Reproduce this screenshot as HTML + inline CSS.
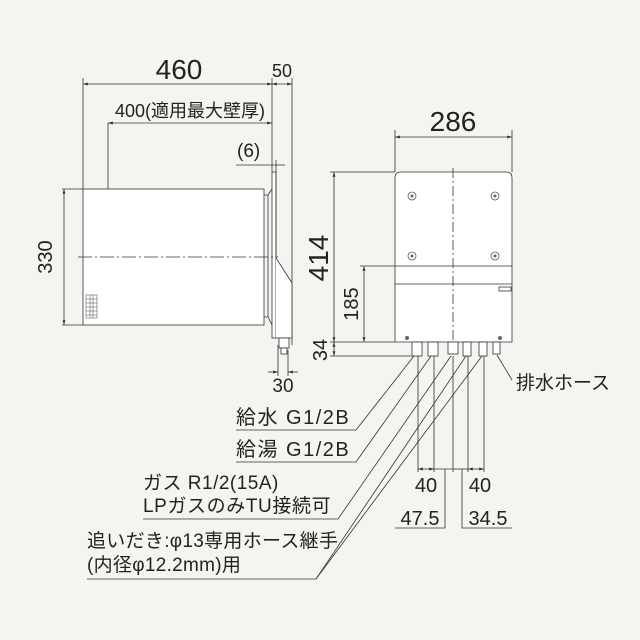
<!DOCTYPE html>
<html><head><meta charset="utf-8"><style>
html,body{margin:0;padding:0;background:#f5f4f0;}
svg{display:block;}
text{font-family:"Liberation Sans","Noto Sans CJK JP",sans-serif;fill:#222;}
</style></head><body>
<svg width="640" height="640" viewBox="0 0 640 640" xmlns="http://www.w3.org/2000/svg">
<defs>
<marker id="a" viewBox="0 0 10 6" refX="10" refY="3" markerWidth="6" markerHeight="4" orient="auto-start-reverse"><path d="M0,0L10,3L0,6z" fill="#333"/></marker>
</defs>
<g stroke="#333" stroke-width="0.8" fill="none">
<line x1="83" y1="78" x2="83" y2="189"/>
<line x1="272" y1="78" x2="272" y2="172"/>
<line x1="292" y1="78" x2="292" y2="345"/>
<line x1="83" y1="84" x2="272" y2="84" marker-start="url(#a)" marker-end="url(#a)"/>
<line x1="272" y1="84" x2="292" y2="84" marker-start="url(#a)" marker-end="url(#a)"/>
<line x1="108" y1="123" x2="108" y2="189"/>
<line x1="108" y1="123" x2="272" y2="123" marker-start="url(#a)" marker-end="url(#a)"/>
<line x1="236" y1="165" x2="285" y2="165"/>
<line x1="276" y1="160" x2="276" y2="172"/>
<rect x="83" y="189" width="181" height="136" fill="#fff"/>
<path d="M264,195 L268,195 L268,317 L264,317"/>
<path d="M268,195 L272,189 M268,317 L272,325"/>
<rect x="272" y="172" width="4" height="166" fill="#fff"/>
<path d="M276,172 L276,258 L292,283 L292,338 L276,338" fill="#fff"/>
<line x1="62" y1="189" x2="83" y2="189"/>
<line x1="62" y1="325" x2="83" y2="325"/>
<line x1="64" y1="189" x2="64" y2="325" marker-start="url(#a)" marker-end="url(#a)"/>
<line x1="78" y1="257" x2="278" y2="257" stroke-dasharray="14,3,2,3"/>
<rect x="279" y="338" width="10" height="10" fill="#fff"/>
<rect x="281" y="348" width="6" height="6" fill="#fff"/>
<line x1="278" y1="345" x2="278" y2="376"/>
<line x1="288" y1="350" x2="288" y2="376"/>
<line x1="268" y1="372" x2="278" y2="372" marker-end="url(#a)"/>
<line x1="298" y1="372" x2="288" y2="372" marker-end="url(#a)"/>
<line x1="395" y1="130" x2="395" y2="172"/>
<line x1="512" y1="130" x2="512" y2="172"/>
<line x1="395" y1="137" x2="512" y2="137" marker-start="url(#a)" marker-end="url(#a)"/>
<path d="M395,342 L395,178 Q395,172 401,172 L506,172 Q512,172 512,178 L512,342 Z" fill="#fff"/>
<line x1="395" y1="266" x2="512" y2="266"/>
<line x1="395" y1="284" x2="512" y2="284"/>
<rect x="499" y="287" width="12" height="4"/>
<line x1="453" y1="168" x2="453" y2="350" stroke-dasharray="10,3,2,3"/>
<line x1="330" y1="172" x2="395" y2="172"/>
<line x1="330" y1="342" x2="395" y2="342"/>
<line x1="330" y1="356" x2="420" y2="356"/>
<line x1="360" y1="266" x2="395" y2="266"/>
<line x1="334" y1="172" x2="334" y2="342" marker-start="url(#a)" marker-end="url(#a)"/>
<line x1="334" y1="342" x2="334" y2="356" marker-start="url(#a)" marker-end="url(#a)"/>
<line x1="364" y1="266" x2="364" y2="342" marker-start="url(#a)" marker-end="url(#a)"/>
<rect x="412" y="342" width="10" height="14" fill="#fff"/>
<rect x="428" y="342" width="10" height="14" fill="#fff"/>
<rect x="448" y="342" width="10" height="12" fill="#fff"/>
<rect x="463" y="342" width="8" height="14" fill="#fff"/>
<rect x="479" y="342" width="8" height="14" fill="#fff"/>
<rect x="493" y="342" width="7" height="12" fill="#fff"/>
<line x1="418" y1="356" x2="418" y2="472"/>
<line x1="434" y1="356" x2="434" y2="472"/>
<line x1="453" y1="356" x2="453" y2="472"/>
<line x1="468" y1="356" x2="468" y2="472"/>
<line x1="484" y1="356" x2="484" y2="472"/>
<line x1="418" y1="469" x2="434" y2="469" marker-start="url(#a)" marker-end="url(#a)"/>
<line x1="434" y1="469" x2="453" y2="469"/>
<line x1="468" y1="469" x2="484" y2="469" marker-start="url(#a)" marker-end="url(#a)"/>
<line x1="453" y1="469" x2="468" y2="469"/>
<polyline points="395,528 445,528 445,469"/>
<polyline points="512,528 462,528 462,469"/>
<polyline points="236,430 356,430 414,356"/>
<polyline points="236,462 356,462 431,356"/>
<polyline points="143,519 338,519 451,356"/>
<polyline points="87,579 316,579 466,356"/>
<line x1="316" y1="579" x2="482" y2="356"/>
<line x1="497" y1="355" x2="512" y2="380"/>
</g>
<g fill="#fff" stroke="#555" stroke-width="0.8">
<circle cx="412" cy="196" r="4"/><circle cx="495" cy="196" r="4"/>
<circle cx="412" cy="256" r="4"/><circle cx="495" cy="256" r="4"/>
</g>
<g fill="#666"><circle cx="412" cy="196" r="1.5"/><circle cx="495" cy="196" r="1.5"/><circle cx="412" cy="256" r="1.5"/><circle cx="495" cy="256" r="1.5"/>
<circle cx="407" cy="338" r="2"/><circle cx="500" cy="338" r="2"/></g>
<g fill="none" stroke="#666" stroke-width="0.6">
<rect x="86" y="295" width="11" height="23"/>
<line x1="86" y1="299" x2="97" y2="299"/><line x1="86" y1="303" x2="97" y2="303"/><line x1="86" y1="307" x2="97" y2="307"/><line x1="86" y1="311" x2="97" y2="311"/><line x1="86" y1="315" x2="97" y2="315"/>
<line x1="90" y1="295" x2="90" y2="318"/><line x1="93" y1="295" x2="93" y2="318"/>
</g>
<text x="179" y="79" font-size="28" text-anchor="middle">460</text>
<text x="282" y="77" font-size="18" text-anchor="middle">50</text>
<text x="115" y="117" font-size="18">400(適用最大壁厚)</text>
<text x="237" y="157" font-size="19">(6)</text>
<text x="283" y="392" font-size="19" text-anchor="middle">30</text>
<text transform="translate(52,257) rotate(-90)" font-size="20" text-anchor="middle">330</text>
<text x="453" y="131" font-size="28" text-anchor="middle">286</text>
<text transform="translate(328,258) rotate(-90)" font-size="28" text-anchor="middle">414</text>
<text transform="translate(358,304) rotate(-90)" font-size="20" text-anchor="middle">185</text>
<text transform="translate(327,350) rotate(-90)" font-size="20" text-anchor="middle">34</text>
<text x="516" y="389" font-size="19">排水ホース</text>
<text x="236" y="424" font-size="20" letter-spacing="1.5">給水 G1/2B</text>
<text x="236" y="456" font-size="20" letter-spacing="1.5">給湯 G1/2B</text>
<text x="143" y="489" font-size="19" letter-spacing="0.5">ガス R1/2(15A)</text>
<text x="143" y="512" font-size="19" letter-spacing="0.6">LPガスのみTU接続可</text>
<text x="87" y="547" font-size="19" letter-spacing="0.3">追いだき:φ13専用ホース継手</text>
<text x="87" y="571" font-size="19" letter-spacing="0.3">(内径φ12.2mm)用</text>
<text x="426" y="492" font-size="20" text-anchor="middle">40</text>
<text x="480" y="492" font-size="20" text-anchor="middle">40</text>
<text x="420" y="525" font-size="20" text-anchor="middle">47.5</text>
<text x="488" y="525" font-size="20" text-anchor="middle">34.5</text>
</svg>
</body></html>
